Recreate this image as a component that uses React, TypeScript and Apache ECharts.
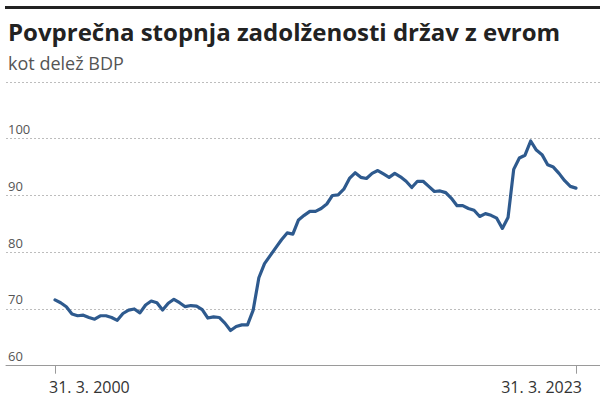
import React, { useEffect, useRef } from "react";
import * as echarts from "echarts";

const titleText = "Povprečna stopnja zadolženosti držav z evrom";
const subtitleText = "kot delež BDP";

// Quarterly values, Q1 2000 .. Q1 2023 (percent of GDP)
const debt: number[] = [
  71.6, 71.1, 70.4, 69.1, 68.8, 68.9, 68.5, 68.2, 68.8, 68.8,
  68.5, 68.0, 69.2, 69.8, 70.0, 69.3, 70.7, 71.4, 71.1, 69.8,
  71.0, 71.7, 71.1, 70.4, 70.6, 70.5, 69.9, 68.4, 68.6, 68.5,
  67.5, 66.2, 66.9, 67.2, 67.2, 69.8, 75.5, 78.0, 79.4, 80.8,
  82.2, 83.4, 83.2, 85.7, 86.5, 87.2, 87.2, 87.7, 88.5, 90.0,
  90.1, 91.1, 93.0, 94.0, 93.2, 93.0, 93.9, 94.4, 93.8, 93.2,
  93.9, 93.3, 92.5, 91.4, 92.5, 92.5, 91.6, 90.7, 90.8, 90.5,
  89.5, 88.2, 88.2, 87.7, 87.4, 86.3, 86.8, 86.5, 86.0, 84.2,
  86.1, 94.6, 96.6, 97.1, 99.6, 98.0, 97.2, 95.4, 95.0, 93.9,
  92.6, 91.6, 91.3,
];

const xTickIndex = [0, 92];
const xTickLabels = ["31. 3. 2000", "31. 3. 2023"];
const yMin = 60;
const yMax = 110;
const yStep = 10;

export default function App() {
  const ref = useRef<HTMLDivElement>(null);
  useEffect(() => {
    if (!ref.current) return;
    const chart = echarts.init(ref.current, null, { renderer: "svg" });
    const font = "'Open Sans', 'Noto Sans', sans-serif";
    const xMin = -8.65;
    const xMax = 96.24;
    const baseX = {
      type: "value",
      min: xMin,
      max: xMax,
      position: "bottom",
      splitLine: { show: false },
    };
    const labelStyle = { margin: 13, fontSize: 16, color: "#333333", fontFamily: font };
    chart.setOption({
      animation: false,
      backgroundColor: "#ffffff",
      textStyle: { fontFamily: font },
      title: {
        text: titleText,
        subtext: subtitleText,
        left: 3,
        top: 14,
        itemGap: 11,
        textStyle: { fontFamily: font, fontSize: 24, fontWeight: "bold", color: "#222222" },
        subtextStyle: { fontFamily: font, fontSize: 18, color: "#555555" },
      },
      graphic: [
        { type: "rect", shape: { x: 5, y: 6, width: 595, height: 3 }, style: { fill: "#222222" } },
      ],
      grid: { left: 6, right: 0, top: 82, bottom: 32.3, containLabel: false },
      xAxis: [
        {
          ...baseX,
          axisLine: { show: true, lineStyle: { color: "#9a9a9a", width: 1 } },
          axisTick: { show: true, customValues: xTickIndex, length: 8, lineStyle: { color: "#9a9a9a" } },
          axisLabel: {
            ...labelStyle,
            customValues: [xTickIndex[0]],
            align: "left",
            padding: [0, 0, 0, -6],
            formatter: () => xTickLabels[0],
          },
        },
        {
          ...baseX,
          axisLine: { show: false },
          axisTick: { show: false },
          axisLabel: {
            ...labelStyle,
            customValues: [xTickIndex[1]],
            align: "right",
            padding: [0, -6, 0, 0],
            formatter: () => xTickLabels[1],
          },
        },
      ],
      yAxis: {
        type: "value",
        min: yMin,
        max: yMax,
        interval: yStep,
        axisLine: { show: false },
        axisTick: { show: false },
        splitLine: { show: true, lineStyle: { color: "#bdbdbd", type: [2, 2], width: 1 } },
        axisLabel: {
          inside: true,
          margin: 2,
          verticalAlign: "bottom",
          padding: [0, 0, 3, 0],
          fontSize: 13,
          color: "#555555",
          fontFamily: font,
          showMaxLabel: false,
          formatter: (v: number) => (v >= yMax ? "" : String(v)),
        },
      },
      series: [
        {
          type: "line",
          xAxisIndex: 0,
          data: debt.map((v, i) => [i, v]),
          showSymbol: false,
          symbol: "none",
          lineStyle: { color: "#2e5a8e", width: 3.2, join: "round", cap: "round" },
          z: 5,
        },
      ],
    });
    return () => chart.dispose();
  }, []);
  return (
    <div
      ref={ref}
      style={{ position: "fixed", left: 0, top: 0, width: 600, height: 398, background: "#fff" }}
    />
  );
}
